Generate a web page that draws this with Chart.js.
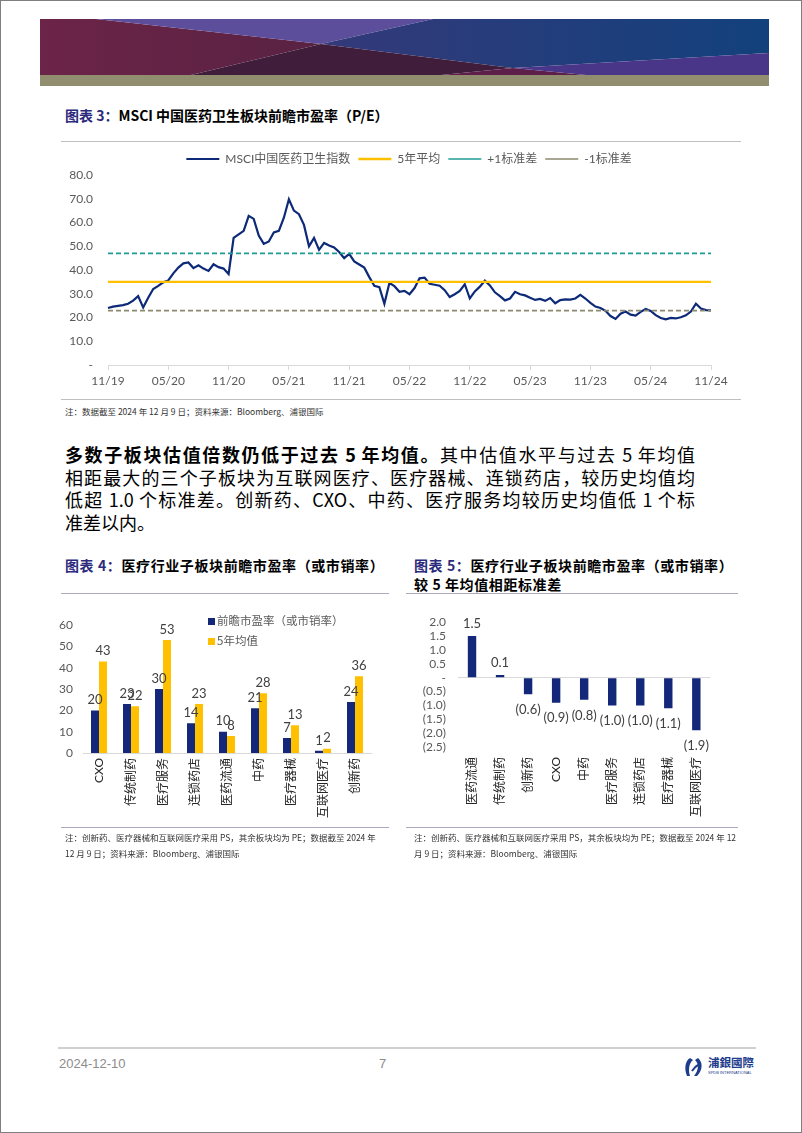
<!DOCTYPE html>
<html lang="zh-CN">
<head>
<meta charset="utf-8">
<title>医疗行业子板块估值</title>
<script src="https://cdn.jsdelivr.net/npm/chart.js@4.4.0/dist/chart.umd.min.js"></script>
<style>
  html, body { margin: 0; padding: 0; background: #fff; }
  body { width: 802px; height: 1133px; overflow: hidden; }
  .page { position: relative; width: 802px; height: 1133px; box-sizing: border-box; border: 1px solid #7f7f7f;
          font-family: 'Noto Sans CJK SC', 'Noto Sans', sans-serif; color: #000; }
  .abs { position: absolute; }
  .title { font-size: 14px; font-weight: 700; white-space: nowrap; line-height: 19px; }
  .title .tag { color: #2b2a7c; }
  .rule { position: absolute; height: 0; border-top: 1px solid #a9a9c0; }
  .note { font-size: 8.5px; color: #333; white-space: nowrap; line-height: 16px; }
  .para { left: 64px; top: 442px; width: 630px; font-size: 18px; line-height: 22.7px; }
  .para .ln { text-align: justify; text-align-last: justify; white-space: nowrap; }
  .para .last { text-align: left; text-align-last: left; }
  .box { position: absolute; }
  .lg4 { font-size: 11.5px; color: #595959; white-space: nowrap; line-height: 20px; }
  .lg4 i { display: inline-block; width: 7px; height: 7px; margin-right: 2px; vertical-align: 0; }
  .foot { font-family: 'Liberation Sans Narrow', 'Arial Narrow', 'Liberation Sans', sans-serif; color: #8c8c8c; font-size: 13px; }
</style>
</head>
<body>
<div class="page">
  <!-- banner -->
  <svg class="abs" style="left:0;top:0" width="802" height="90">
    <defs>
      <linearGradient id="gNavy" x1="0" x2="1"><stop offset="0" stop-color="#34397a"/><stop offset="1" stop-color="#12417c"/></linearGradient>
      <linearGradient id="gMaroon" x1="0" x2="1"><stop offset="0" stop-color="#6c2448"/><stop offset="1" stop-color="#592243"/></linearGradient>
    </defs>
    <polygon points="39,18 95,18 320,43 190,74 39,74" fill="url(#gMaroon)"/>
    <polygon points="95,18 432,18 320,43" fill="#5c4e9a"/>
    <polygon points="432,18 768,18 768,52 512,67 320,43" fill="url(#gNavy)"/>
    <polygon points="320,43 512,67 440,74 190,74" fill="#3f1d3b"/>
    <polygon points="440,74 512,67 585,74" fill="#5d1f4a"/>
    <polygon points="512,67 768,52 768,74 585,74" fill="#4a3688"/>
    <rect x="39" y="74" width="729" height="11" fill="#908e6e"/>
  </svg>

  <!-- chart 3 -->
  <div class="abs title" style="left:64px;top:105px"><span class="tag">图表 3：</span>MSCI 中国医药卫生板块前瞻市盈率（P/E）</div>
  <div class="rule" style="left:60px;top:140px;width:680px;border-color:#c0c0c0"></div>
  <div class="box" style="left:62px;top:144px;width:692px;height:245px"><canvas id="c3"></canvas></div>
  <div class="rule" style="left:60px;top:398px;width:680px;border-color:#c0c0c0"></div>
  <div class="abs note" style="left:64px;top:402px">注：数据截至 2024 年 12 月 9 日；资料来源：Bloomberg、浦银国际</div>

  <!-- paragraph -->
  <div class="abs para">
    <div class="ln"><b>多数子板块估值倍数仍低于过去 5 年均值。</b>其中估值水平与过去 5 年均值</div>
    <div class="ln">相距最大的三个子板块为互联网医疗、医疗器械、连锁药店，较历史均值均</div>
    <div class="ln">低超 1.0 个标准差。创新药、CXO、中药、医疗服务均较历史均值低 1 个标</div>
    <div class="ln last">准差以内。</div>
  </div>

  <!-- chart 4 -->
  <div class="abs title" style="left:64px;top:555px;letter-spacing:0.6px"><span class="tag">图表 4：</span>医疗行业子板块前瞻市盈率（或市销率）</div>
  <div class="rule" style="left:60px;top:592px;width:328px"></div>
  <div class="box" style="left:56px;top:607px;width:318px;height:220px"><canvas id="c4"></canvas></div>
  <div class="abs lg4" style="left:207px;top:609px"><i style="background:#14287a"></i>前瞻市盈率（或市销率）</div>
  <div class="abs lg4" style="left:207px;top:629px"><i style="background:#ffc000"></i>5年均值</div>
  <div class="rule" style="left:60px;top:826px;width:328px"></div>
  <div class="abs note" style="left:64px;top:828px">注：创新药、医疗器械和互联网医疗采用 PS，其余板块均为 PE；数据截至 2024 年<br>12 月 9 日；资料来源：Bloomberg、浦银国际</div>

  <!-- chart 5 -->
  <div class="abs title" style="left:413px;top:555px;letter-spacing:0.6px"><span class="tag">图表 5：</span>医疗行业子板块前瞻市盈率（或市销率）<br>较 5 年均值相距标准差</div>
  <div class="rule" style="left:405px;top:592px;width:332px"></div>
  <div class="box" style="left:415px;top:602px;width:305px;height:224px"><canvas id="c5"></canvas></div>
  <div class="rule" style="left:405px;top:826px;width:332px"></div>
  <div class="abs note" style="left:413px;top:828px">注：创新药、医疗器械和互联网医疗采用 PS，其余板块均为 PE；数据截至 2024 年 12<br>月 9 日；资料来源：Bloomberg、浦银国际</div>

  <!-- footer -->
  <div class="rule" style="left:57px;top:1046px;width:698px;border-color:#d0d0d0;border-top-width:2px"></div>
  <div class="abs foot" style="left:58px;top:1055px">2024-12-10</div>
  <div class="abs foot" style="left:378px;top:1055px">7</div>
  <svg class="abs" style="left:682px;top:1055px" width="22" height="22" viewBox="0 0 22 22">
    <path d="M7 2 C2 5 1 13 4 20 L7 20 C5 14 6 7 10 4 Z" fill="#1d3c8c"/>
    <path d="M15 2 C20 6 20 14 14 20 L11 20 C16 14 16 8 12 4 Z" fill="#1d3c8c"/>
    <path d="M9 15 C11 12 13 10 15 9" stroke="#1d3c8c" stroke-width="2" fill="none"/>
  </svg>
  <div class="abs" style="left:707px;top:1054px;color:#1d3c8c;font-weight:700;font-size:11.5px;line-height:14px">浦銀國際</div>
  <div class="abs" style="left:707px;top:1069px;color:#1d3c8c;font-size:4px;line-height:5px;font-family:'Liberation Sans',sans-serif">SPDB INTERNATIONAL</div>
</div>

<script>
// ---- Chart 3: MSCI China Health Care forward P/E, half-monthly readings from Nov 2019 ----
const xTickLabels = ['11/19', '05/20', '11/20', '05/21', '11/21', '05/22', '11/22', '05/23', '11/23', '05/24', '11/24'];
const peIndex = [
    24.0, 24.6, 24.9, 25.2, 25.8, 27.1, 29.0, 24.2, 28.3, 32.0,
    33.3, 34.8, 35.6, 38.6, 41.0, 42.8, 43.2, 40.8, 42.0, 40.6,
    39.6, 42.4, 41.2, 40.6, 38.3, 53.5, 55.0, 56.5, 62.8, 61.5,
    54.5, 51.0, 52.0, 55.8, 56.5, 62.0, 69.8, 65.0, 63.5, 59.0,
    50.0, 53.5, 48.5, 51.4, 50.3, 49.5, 47.6, 45.0, 46.8, 43.6,
    42.3, 41.0, 37.0, 33.3, 32.8, 25.8, 34.5, 33.2, 30.8, 31.2,
    29.8, 32.4, 36.5, 36.8, 34.2, 33.8, 33.4, 31.5, 28.6, 29.8,
    31.2, 34.0, 28.0, 31.0, 33.0, 35.5, 33.5, 30.6, 29.0, 27.2,
    28.0, 30.8, 29.8, 29.3, 28.3, 27.4, 27.8, 27.0, 28.2, 26.0,
    27.3, 27.6, 27.5, 28.0, 29.5, 28.0, 26.2, 24.6, 24.0, 22.8,
    20.6, 19.4, 21.6, 22.5, 21.2, 20.8, 22.4, 23.6, 22.8, 21.0,
    19.8, 19.2, 19.8, 19.6, 20.1, 20.9, 22.5, 25.8, 23.8, 23.1,
    23.0
];
const fiveYearAvg = 35.0;
const plusOneStd = 47.0;
const minusOneStd = 22.9;
const legend3 = ['MSCI中国医药卫生指数', '5年平均', '+1标准差', '-1标准差'];

// ---- Chart 4: sub-sector forward P/E (or P/S) vs 5-year mean ----
const sectors4 = ['CXO', '传统制药', '医疗服务', '连锁药店', '医药流通', '中药', '医疗器械', '互联网医疗', '创新药'];
const forwardPE = [20, 23, 30, 14, 10, 21, 7, 1, 24];
const fiveYearMean = [43, 22, 53, 23, 8, 28, 13, 2, 36];

// ---- Chart 5: distance from 5-year mean in standard deviations ----
const sectors5 = ['医药流通', '传统制药', '创新药', 'CXO', '中药', '医疗服务', '连锁药店', '医疗器械', '互联网医疗'];
const stdFromMean = [1.5, 0.1, -0.6, -0.9, -0.8, -1.0, -1.0, -1.1, -1.9];

// half-month category labels for the time axis
const peDates = [];
for (let i = 0; i < peIndex.length; i++) {
    const mo = 10 + Math.floor(i / 2);
    const yr = 2019 + Math.floor(mo / 12);
    peDates.push(`${yr}-${String(mo % 12 + 1).padStart(2, '0')}-${i % 2 ? '16' : '01'}`);
}
const first = peDates[0];
const last = peDates[peDates.length - 1];

const FONT = "Lato, 'Noto Sans CJK SC', sans-serif";
Chart.defaults.font.family = FONT;
Chart.defaults.color = '#595959';
Chart.defaults.animation = false;

// Draw value labels above (or below, for negatives) each bar
const valueLabels = {
    id: 'valueLabels',
    afterDatasetsDraw(chart, args, opts) {
        const ctx = chart.ctx;
        ctx.save();
        ctx.font = `${opts.size}px ${FONT}`;
        ctx.fillStyle = opts.color;
        ctx.textAlign = 'center';
        chart.data.datasets.forEach((ds, di) => {
            chart.getDatasetMeta(di).data.forEach((bar, i) => {
                const v = ds.data[i];
                let text = v.toFixed(opts.decimals);
                if (opts.parens && v < 0) text = '(' + Math.abs(v).toFixed(opts.decimals) + ')';
                if (v < 0) {
                    ctx.textBaseline = 'top';
                    ctx.fillText(text, bar.x, bar.y + opts.below);
                } else {
                    ctx.textBaseline = 'bottom';
                    ctx.fillText(text, bar.x, bar.y - opts.above);
                }
            });
        });
        ctx.restore();
    }
};

// Chart 3
new Chart(document.getElementById('c3'), {
    type: 'line',
    data: {
        labels: peDates,
        datasets: [
            { label: legend3[0], data: peIndex, borderColor: '#0d2a78', borderWidth: 2.2, pointRadius: 0, tension: 0, order: 1 },
            { label: legend3[1], data: [{ x: first, y: fiveYearAvg }, { x: last, y: fiveYearAvg }], borderColor: '#ffc000', borderWidth: 2.4, pointRadius: 0 },
            { label: legend3[2], data: [{ x: first, y: plusOneStd }, { x: last, y: plusOneStd }], borderColor: '#1f9b93', borderWidth: 1.6, borderDash: [5, 3], pointRadius: 0 },
            { label: legend3[3], data: [{ x: first, y: minusOneStd }, { x: last, y: minusOneStd }], borderColor: '#8b8a6e', borderWidth: 1.6, borderDash: [5, 3], pointRadius: 0 }
        ]
    },
    options: {
        responsive: true,
        maintainAspectRatio: false,
        plugins: {
            legend: {
                position: 'top',
                labels: {
                    usePointStyle: true,
                    pointStyle: 'line',
                    pointStyleWidth: 33,
                    padding: 8,
                    color: '#595959',
                    font: { size: 12 },
                    sort: (a, b) => a.datasetIndex - b.datasetIndex
                }
            },
            tooltip: { enabled: false }
        },
        scales: {
            x: {
                grid: {
                    drawOnChartArea: false,
                    tickLength: 5,
                    color: ctx => (ctx.index % 12 === 0 ? '#d9d9d9' : 'rgba(0,0,0,0)')
                },
                border: { color: '#d9d9d9' },
                ticks: {
                    autoSkip: false,
                    maxRotation: 0,
                    padding: 4,
                    font: { size: 12 },
                    callback: (v, i) => (i % 12 === 0 ? xTickLabels[i / 12] : '')
                },
                afterFit: s => { s.height = 25; }
            },
            y: {
                min: 0,
                max: 80,
                ticks: { stepSize: 10, autoSkip: false, padding: 15, font: { size: 12 }, callback: v => (v === 0 ? '-' : v.toFixed(1)) },
                grid: { display: false, drawTicks: false },
                border: { display: false },
                afterFit: s => { s.width = 45; }
            },
            // empty spacer on the right so the legend centres like the original
            spacer: {
                position: 'right',
                grid: { display: false, drawTicks: false },
                border: { display: false },
                ticks: { display: false },
                afterFit: s => { s.width = 44; }
            }
        }
    }
});

// Chart 4
new Chart(document.getElementById('c4'), {
    type: 'bar',
    data: {
        labels: sectors4,
        datasets: [
            { label: '前瞻市盈率（或市销率）', data: forwardPE, backgroundColor: '#14287a', categoryPercentage: 0.5, barPercentage: 1 },
            { label: '5年均值', data: fiveYearMean, backgroundColor: '#ffc000', categoryPercentage: 0.5, barPercentage: 1 }
        ]
    },
    plugins: [valueLabels],
    options: {
        responsive: true,
        maintainAspectRatio: false,
        layout: { padding: { top: 10, right: 4 } },
        plugins: {
            legend: { display: false },
            tooltip: { enabled: false },
            valueLabels: { size: 13, color: '#404040', decimals: 0, parens: false, above: 4, below: 4 }
        },
        scales: {
            x: {
                grid: { display: false, drawTicks: false },
                border: { color: '#d9d9d9' },
                ticks: { minRotation: 90, maxRotation: 90, autoSkip: false, padding: 5, color: '#262626', font: { size: 12 } },
                afterFit: s => { s.height = 75; }
            },
            y: {
                min: 0,
                max: 60,
                ticks: { stepSize: 10, autoSkip: false, padding: 10, font: { size: 12 } },
                grid: { display: false, drawTicks: false },
                border: { display: false },
                afterFit: s => { s.width = 26; }
            }
        }
    }
});

// Chart 5
new Chart(document.getElementById('c5'), {
    type: 'bar',
    data: {
        labels: sectors5,
        datasets: [
            { label: '相距标准差', data: stdFromMean, backgroundColor: '#14287a', categoryPercentage: 1, barPercentage: 0.3 }
        ]
    },
    plugins: [valueLabels],
    options: {
        responsive: true,
        maintainAspectRatio: false,
        layout: { padding: { top: 10, right: 5 } },
        plugins: {
            legend: { display: false },
            tooltip: { enabled: false },
            valueLabels: { size: 13, color: '#404040', decimals: 1, parens: true, above: 6, below: 9 }
        },
        scales: {
            x: {
                grid: { display: false, drawTicks: false },
                border: { display: false },
                ticks: { minRotation: 90, maxRotation: 90, autoSkip: false, padding: 10, color: '#262626', font: { size: 12 } },
                afterFit: s => { s.height = 80; }
            },
            y: {
                min: -2.5,
                max: 2.0,
                ticks: {
                    stepSize: 0.5,
                    autoSkip: false,
                    padding: 12,
                    font: { size: 12 },
                    callback: v => (Math.abs(v) < 1e-9 ? '-' : v < 0 ? '(' + Math.abs(v).toFixed(1) + ')' : v.toFixed(1))
                },
                grid: {
                    drawTicks: false,
                    color: ctx => (ctx.tick && Math.abs(ctx.tick.value) < 1e-9 ? '#d9d9d9' : 'rgba(0,0,0,0)')
                },
                border: { display: false },
                afterFit: s => { s.width = 42; }
            }
        }
    }
});
</script>
</body>
</html>
